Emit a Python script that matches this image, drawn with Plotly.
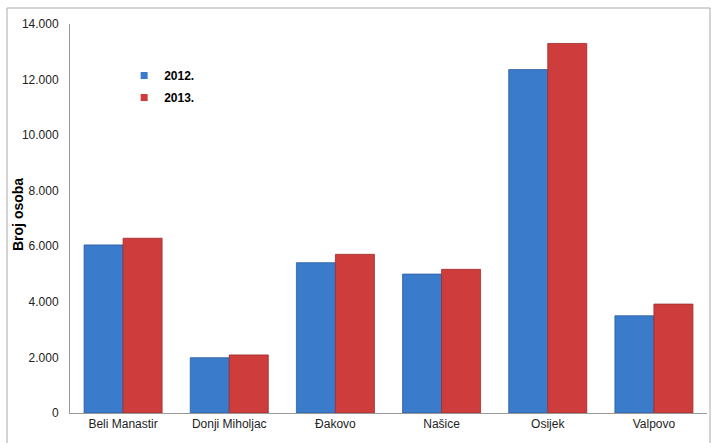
import plotly.graph_objects as go

categories = ["Beli Manastir", "Donji Miholjac", "Đakovo", "Našice", "Osijek", "Valpovo"]
values_2012 = [6050, 1990, 5410, 5000, 12360, 3500]
values_2013 = [6290, 2090, 5710, 5170, 13300, 3920]
series_names = ["2012.", "2013."]
series_colors = ["#3B7BCB", "#CF3C3C"]
series_edges = ["#2C5E9E", "#9E2C2C"]
tick_vals = [0, 2000, 4000, 6000, 8000, 10000, 12000, 14000]

fig = go.Figure()
for vals, name, col, edge in zip([values_2012, values_2013], series_names, series_colors, series_edges):
    fig.add_trace(go.Bar(x=categories, y=vals, name=name, showlegend=False,
                         marker=dict(color=col, line=dict(color=edge, width=0.8))))
# legend entries with small square symbols
for name, col in zip(series_names, series_colors):
    fig.add_trace(go.Scatter(x=[None], y=[None], mode="markers", name=name,
                             legendgroup=name,
                             marker=dict(symbol="square", size=7, color=col)))

fig.update_layout(
    width=717, height=443,
    margin=dict(l=70, r=10, t=24, b=30, autoexpand=False),
    paper_bgcolor="white", plot_bgcolor="white",
    barmode="group", bargap=0.265, bargroupgap=0,
    separators=",.",
    font=dict(family="Liberation Sans, Arial, sans-serif", size=12, color="#222"),
    showlegend=True,
    legend=dict(x=0.085, y=0.905, xanchor="left", yanchor="top",
                traceorder="grouped", tracegroupgap=3,
                bgcolor="rgba(0,0,0,0)", font=dict(size=12, color="#000", weight="bold"),
                itemwidth=30),
    xaxis=dict(showline=True, linecolor="#999", linewidth=1, ticks="", automargin=False,
               tickfont=dict(size=12, color="#222"), showgrid=False),
    yaxis=dict(range=[0, 14000], tickvals=tick_vals, tickformat=",d", automargin=False,
               showline=True, linecolor="#999", linewidth=1, ticks="",
               showgrid=False, zeroline=False, ticklabelstandoff=8,
               tickfont=dict(size=12, color="#222")),
    annotations=[dict(text="<b>Broj osoba</b>", xref="paper", yref="paper",
                      x=-52/637, y=0.509, textangle=-90, showarrow=False,
                      xanchor="center", yanchor="middle",
                      font=dict(size=14, color="#000"))],
    shapes=[dict(type="rect", xref="paper", yref="paper",
                 x0=-63/637, x1=640/637, y0=-40/389, y1=(413-8)/389,
                 line=dict(color="#aaa", width=1), fillcolor="rgba(0,0,0,0)", layer="below")],
)

fig.write_html("out.html", config={"displayModeBar": False},
               post_script="document.body.style.margin='0';")
